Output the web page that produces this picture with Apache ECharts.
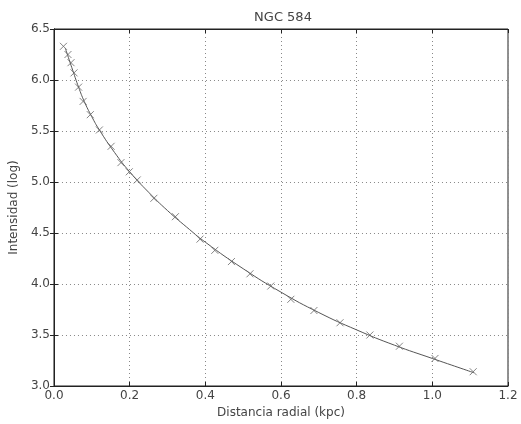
<!DOCTYPE html>
<html>
<head>
<meta charset="utf-8">
<script src="https://cdn.jsdelivr.net/npm/echarts@6/dist/echarts.min.js"></script>
<style>html,body{margin:0;padding:0;background:#fff}#c{width:521px;height:424px}</style>
</head>
<body>
<div id="c"></div>
<script>
var titleText = 'NGC 584';
var xName = 'Distancia radial (kpc)';
var yName = 'Intensidad (log)';
var xTicks = [0, 0.2, 0.4, 0.6, 0.8, 1.0, 1.2];
var yTicks = [3.0, 3.5, 4.0, 4.5, 5.0, 5.5, 6.0, 6.5];

// measured points (x markers)
var obsX = [0.025, 0.037, 0.045, 0.053, 0.065, 0.077, 0.096, 0.12, 0.151, 0.177, 0.199, 0.22, 0.264, 0.321, 0.386, 0.425, 0.469, 0.518, 0.573, 0.626, 0.687, 0.756, 0.835, 0.913, 1.007, 1.108];
var obsY = [6.33, 6.25, 6.17, 6.07, 5.93, 5.79, 5.66, 5.51, 5.35, 5.19, 5.10, 5.02, 4.84, 4.66, 4.44, 4.33, 4.22, 4.10, 3.98, 3.85, 3.74, 3.62, 3.50, 3.39, 3.27, 3.14];

// fitted curve
var fitX = [0.03, 0.04, 0.05, 0.065, 0.08, 0.1, 0.12, 0.16, 0.2, 0.25, 0.3, 0.35, 0.4, 0.5, 0.6, 0.7, 0.8, 0.9, 1.0, 1.11];
var fitY = [6.31, 6.20, 6.09, 5.93, 5.79, 5.64, 5.51, 5.29, 5.10, 4.90, 4.72, 4.56, 4.41, 4.15, 3.92, 3.72, 3.55, 3.40, 3.27, 3.13];

var obs = obsX.map(function (x, i) { return [x, obsY[i]]; });
var fit = fitX.map(function (x, i) { return [x, fitY[i]]; });

var font = 'DejaVu Sans';
var txt = '#444';
var chart = echarts.init(document.getElementById('c'));
chart.setOption({
  backgroundColor: '#fff',
  animation: false,
  title: {
    text: titleText, left: 278, top: 6, textAlign: 'center',
    textStyle: { fontFamily: font, fontSize: 13, fontWeight: 'normal', color: txt }
  },
  grid: { left: 49, right: 13, top: 29, bottom: 37, show: true, borderColor: '#222', borderWidth: 1, backgroundColor: 'transparent' },
  xAxis: [{
    type: 'value', min: 0, max: 1.2, interval: 0.2,
    name: xName, nameLocation: 'middle', nameGap: 21,
    nameTextStyle: { fontFamily: font, fontSize: 12, color: txt },
    axisLine: { show: true, lineStyle: { color: '#222' } },
    axisTick: { show: true, inside: true, length: 4, lineStyle: { color: '#222' } },
    axisLabel: { fontFamily: font, fontSize: 12, color: txt, margin: 4, formatter: function (v) { return v.toFixed(1); } },
    splitLine: { show: true, lineStyle: { type: [1, 3], color: '#888', width: 1 } }
  }, {
    type: 'value', min: 0, max: 1.2, interval: 0.2, position: 'top',
    axisLine: { show: true, lineStyle: { color: '#222' } },
    axisTick: { show: true, inside: true, length: 4, lineStyle: { color: '#222' } },
    axisLabel: { show: false }, splitLine: { show: false }
  }],
  yAxis: [{
    type: 'value', min: 3, max: 6.5, interval: 0.5,
    name: yName, nameLocation: 'middle', nameGap: 27,
    nameTextStyle: { fontFamily: font, fontSize: 12, color: txt },
    axisLine: { show: true, lineStyle: { color: '#222' } },
    axisTick: { show: true, inside: true, length: 4, lineStyle: { color: '#222' } },
    axisLabel: { fontFamily: font, fontSize: 12, color: txt, margin: 4, formatter: function (v) { return v.toFixed(1); } },
    splitLine: { show: true, lineStyle: { type: [1, 3], color: '#888', width: 1 } }
  }, {
    type: 'value', min: 3, max: 6.5, interval: 0.5, position: 'right',
    axisLine: { show: true, lineStyle: { color: '#222' } },
    axisTick: { show: true, inside: true, length: 4, lineStyle: { color: '#222' } },
    axisLabel: { show: false }, splitLine: { show: false }
  }],
  series: [{
    type: 'line', data: fit, smooth: 0.5, showSymbol: false,
    lineStyle: { color: '#555', width: 1 }, z: 2
  }, {
    type: 'scatter', data: obs,
    symbol: 'path://M0,0L10,10M10,0L0,10', symbolSize: 7,
    itemStyle: { color: 'transparent', borderColor: '#666', borderWidth: 1 }, z: 3
  }]
});
</script>
</body>
</html>
